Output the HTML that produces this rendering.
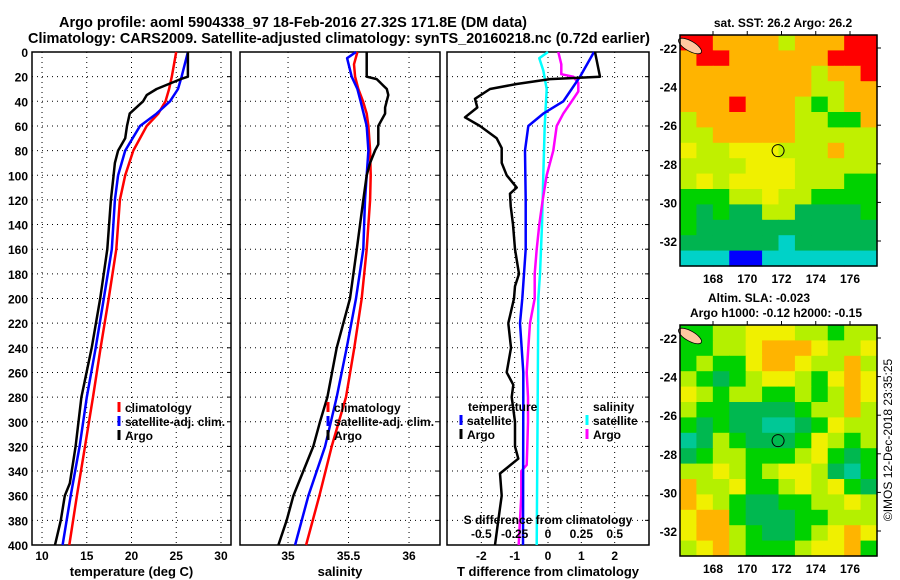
<!DOCTYPE html>
<html><head><meta charset="utf-8"><style>
body{margin:0;background:#fff;}
svg{display:block;font-family:"Liberation Sans",sans-serif;font-weight:bold;}
</style></head><body>
<svg id="chart" width="900" height="580" viewBox="0 0 900 580" xmlns="http://www.w3.org/2000/svg">
<text x="59" y="27" font-size="15" textLength="468" lengthAdjust="spacingAndGlyphs">Argo profile: aoml 5904338_97 18-Feb-2016 27.32S 171.8E (DM data)</text>
<text x="28" y="43" font-size="15" textLength="622" lengthAdjust="spacingAndGlyphs">Climatology: CARS2009. Satellite-adjusted climatology: synTS_20160218.nc (0.72d earlier)</text>
<g id="layer"></g>
<text transform="translate(892,440) rotate(-90)" text-anchor="middle" font-size="12" font-weight="normal">©IMOS 12-Dec-2018 23:35:25</text>
</svg>
<script>
// ---- temperature panel data ----
const tClimDepth=[0,20,30,40,50,60,80,100,120,160,200,240,280,320,360,400];
const tClimVal=[25.0,24.5,24.2,23.8,23.0,21.7,20.2,19.3,18.7,18.3,17.45,16.55,15.7,14.8,13.9,13.05];
const tSatDepth=[0,20,30,40,50,60,80,100,120,160,200,240,280,320,360,400];
const tSatVal=[26.3,25.6,25.2,24.3,22.8,20.95,19.3,18.5,18.15,17.8,16.9,16.0,15.0,14.2,13.2,12.3];
const tArgoDepth=[0,20,22,30,35,40,50,60,70,80,90,100,120,160,200,240,280,320,350,360,380,400];
const tArgoVal=[26.3,26.3,25.5,22.8,21.7,21.3,19.8,19.5,19.3,18.5,18.15,18.0,17.7,17.3,16.5,15.55,14.4,13.75,13.1,12.55,12.1,11.45];
// ---- salinity panel data ----
const sClimDepth=[0,10,20,30,40,50,60,80,100,120,160,200,240,280,320,360,400];
const sClimVal=[35.573,35.545,35.554,35.581,35.62,35.65,35.664,35.678,35.683,35.678,35.65,35.609,35.548,35.479,35.361,35.259,35.149];
const sSatDepth=[0,5,20,30,40,60,80,100,120,160,200,240,280,320,360,400];
const sSatVal=[35.562,35.488,35.526,35.573,35.6,35.65,35.664,35.65,35.636,35.622,35.562,35.485,35.402,35.306,35.168,35.058];
const sArgoDepth=[0,20,22,30,35,45,50,60,75,80,90,100,120,160,200,240,280,300,320,340,360,380,400];
const sArgoVal=[35.65,35.65,35.733,35.816,35.829,35.802,35.802,35.746,35.746,35.719,35.678,35.65,35.622,35.568,35.512,35.402,35.325,35.264,35.209,35.126,35.044,34.989,34.92];
// ---- difference panel data ----
const dTArgoDepth=[0,20,22,26,30,38,45,53,60,70,78,90,100,110,115,125,140,160,180,190,200,220,240,260,270,280,300,320,330,342,360,380,400];
const dTArgoVal=[1.41,1.56,0.06,-0.94,-1.74,-2.19,-2.12,-2.49,-2.04,-1.54,-1.39,-1.39,-1.24,-0.94,-1.14,-1.12,-1.05,-0.99,-0.87,-0.99,-1.02,-1.19,-1.11,-1.24,-1.04,-1.09,-0.99,-0.99,-0.89,-1.44,-1.39,-1.49,-1.59];
const dTSatDepth=[0,20,30,40,50,60,80,120,160,200,220,260,280,400];
const dTSatVal=[1.38,0.96,0.71,0.46,-0.14,-0.59,-0.69,-0.67,-0.67,-0.77,-0.84,-0.74,-0.74,-0.75];
const dSSatDepth=[0,5,15,30,60,100,140,180,200,280,400];
const dSSatVal=[0.0,-0.065,-0.035,-0.01,-0.025,-0.035,-0.045,-0.06,-0.073,-0.077,-0.085];
const dSArgoDepth=[0,10,18,20,25,32,40,50,60,80,100,120,140,160,180,200,220,240,260,280,300,320,335,340,360,380,400];
const dSArgoVal=[0.077,0.1,0.1,0.19,0.227,0.227,0.178,0.115,0.065,0.04,-0.01,-0.04,-0.065,-0.085,-0.1,-0.1,-0.135,-0.148,-0.16,-0.15,-0.15,-0.155,-0.16,-0.2,-0.2,-0.21,-0.22];
// ---- axis ticks ----
const depthTicks=[0,20,40,60,80,100,120,140,160,180,200,220,240,260,280,300,320,340,360,380,400];
const tTicks=[10,15,20,25,30];
const sTicks=[35,35.5,36];
const dTTicks=[-2,-1,0,1,2];
const dSTicks=[-0.5,-0.25,0,0.25,0.5];
// ---- maps ----
const sstRows=["rroooolooorr","orroooooorrr","ooooooooloor","oooooooolloo","ooorooolgloo","loooooollggo","llooooolllll","yllyyyllloll","llllyyylllll","lylyyyylllgg","gggllyllgggg","gdgddllddddg","gddddddddddd","ddddddcddddd","cccbbccccccc"];
const slaRows=["ggllyyyllgll","ggllyoooyllyl","glggyooyllo y","lgdglyylgyoy","ylgllgglgloy","lggddddgllol","gdgddccdgyll","cdlgdddgylgl","dgllggglygdg","llylglyyldcg","ollyggly ygdl","oylgddggllyl","yoogdddggllly","yoolgddglyoy","lyolggglyyog"];
const sstColors={r:"#ff0000",o:"#ffb400",y:"#f0f000",l:"#c0f000",g:"#00d200",d:"#00b450",c:"#00d2c8",b:"#0000ff"};
const slaColors={o:"#ffb400",y:"#f0f000",l:"#b4f000",g:"#00d200",d:"#00b850",c:"#00c896"};
const lonTicks=[168,170,172,174,176];
const latTicks=[-22,-24,-26,-28,-30,-32];
const argoLon=171.8, argoLat=-27.32;

const NS="http://www.w3.org/2000/svg";
const layer=document.getElementById('layer');
function mk(tag,attrs,parent){const e=document.createElementNS(NS,tag);for(const k in attrs)e.setAttribute(k,attrs[k]);(parent||layer).appendChild(e);return e;}
function txt(s,x,y,anchor,size,parent){const t=mk('text',{x:x,y:y,'text-anchor':anchor||'start','font-size':size||12},parent);t.textContent=s;return t;}

const Y0=52,Y1=545;
function yd(d){return Y0+(d/400)*(Y1-Y0);}
function scale(d0,d1,p0,p1){return v=>p0+(v-d0)/(d1-d0)*(p1-p0);}

const panels=[
 {name:'temperature-panel',x0:32,x1:231,sx:scale(8.88,31.12,32,231),ticks:tTicks,title:'temperature (deg C)'},
 {name:'salinity-panel',x0:240,x1:440,sx:scale(34.603,36.256,240,440),ticks:sTicks,title:'salinity'},
 {name:'difference-panel',x0:447,x1:649,sx:scale(-3.03,3.03,447,649),ticks:dTTicks,title:'T difference from climatology'}
];
panels.forEach((p,i)=>{
  const g=mk('g',{});
  
  
  depthTicks.forEach(d=>{if(d>0&&d<400)mk('line',{x1:p.x0,x2:p.x1,y1:yd(d),y2:yd(d),stroke:'#000','stroke-width':1,'stroke-dasharray':'1,4'},g);
    mk('line',{x1:p.x1-4,x2:p.x1,y1:yd(d),y2:yd(d),stroke:'#000'},g);});
  p.ticks.forEach(v=>{const x=p.sx(v);mk('line',{x1:x,x2:x,y1:Y0,y2:Y1,stroke:'#000','stroke-dasharray':'1,4'},g);
    const t=txt(String(v),x,560,'middle',12,g);
    
    });
  mk('rect',{x:p.x0,y:Y0,width:p.x1-p.x0,height:Y1-Y0,fill:'none',stroke:'#000','stroke-width':1.5},g);
  const tt=txt(p.title,(p.x0+p.x1)/2,576,'middle',13,g);
  
  
});
depthTicks.forEach(d=>{const t=txt(String(d),28,yd(d)+5,'end',12);
  
  });

function line(depths,vals,sx,color,w,name){
  const pts=depths.map((d,i)=>sx(vals[i]).toFixed(1)+','+yd(d).toFixed(1)).join(' ');
  const e=mk('polyline',{points:pts,fill:'none',stroke:color,'stroke-width':w,'stroke-linejoin':'round'});
  
  
}
const P=panels;
line(tClimDepth,tClimVal,P[0].sx,'#ff0000',2.5,'temperature-climatology-line');
line(tSatDepth,tSatVal,P[0].sx,'#0000ff',2.5,'temperature-satellite-line');
line(tArgoDepth,tArgoVal,P[0].sx,'#000',2.5,'temperature-argo-line');
line(sClimDepth,sClimVal,P[1].sx,'#ff0000',2.5,'salinity-climatology-line');
line(sSatDepth,sSatVal,P[1].sx,'#0000ff',2.5,'salinity-satellite-line');
line(sArgoDepth,sArgoVal,P[1].sx,'#000',2.5,'salinity-argo-line');
const sxS=v=>P[2].sx(v*4);
line(dSSatDepth,dSSatVal,sxS,'#00ffff',2.5,'sdiff-satellite-line');
line(dSArgoDepth,dSArgoVal,sxS,'#ff00ff',2.5,'sdiff-argo-line');
line(dTSatDepth,dTSatVal,P[2].sx,'#0000ff',2.5,'tdiff-satellite-line');
line(dTArgoDepth,dTArgoVal,P[2].sx,'#000',2.5,'tdiff-argo-line');

const st=txt('S difference from climatology',548,524,'middle',12);


dSTicks.forEach(v=>{const t=txt(String(v),sxS(v),538,'middle',12);
  
  });

function legend(x,y,items,name){
  const g=mk('g',{});
  
  
  items.forEach((it,i)=>{const yy=y+i*14;
    if(it[1])mk('line',{x1:x,x2:x,y1:yy-10,y2:yy,stroke:it[1],'stroke-width':3},g);
    const t=txt(it[0],x+6,yy,'start',12,g);
    
    });
}
legend(119,412,[['climatology','#ff0000'],['satellite-adj. clim.','#0000ff'],['Argo','#000']],'temperature-legend');
legend(328,412,[['climatology','#ff0000'],['satellite-adj. clim.','#0000ff'],['Argo','#000']],'salinity-legend');
legend(462,411,[['temperature',null]],'tdiff-legend-title');
legend(461,425,[['satellite','#0000ff'],['Argo','#000']],'tdiff-legend');
legend(587,411,[['salinity',null]],'sdiff-legend-title');
legend(587,425,[['satellite','#00ffff'],['Argo','#ff00ff']],'sdiff-legend');

function map(top,rows,colors,name,title){
  const L=680,R=877,T=top,B=top+231;
  const g=mk('g',{});
  
  
  const lonS=scale(168,176,713,850), latS=scale(-22,-32,T+13,T+206);
  const nr=rows.length, ch=(B-T)/nr, NC=12, cw=(R-L)/NC;
  rows.forEach((row,ri)=>{
    for(let ci=0;ci<NC;ci++){
      const k=row[ci];
      const c=mk('rect',{x:(L+ci*cw).toFixed(2),y:(T+ri*ch).toFixed(2),width:(cw+0.6).toFixed(2),height:(ch+0.6).toFixed(2),fill:colors[k]||colors.l},g);
      
      
    }});
  mk('ellipse',{cx:L+10,cy:T+11,rx:13,ry:5,fill:'#ffc8a0',stroke:'#000','stroke-width':0.8,transform:`rotate(30 ${L+10} ${T+11})`},g);
  const ci=mk('circle',{cx:lonS(argoLon),cy:latS(argoLat),r:6,fill:'none',stroke:'#000','stroke-width':1},g);
  
  
  mk('rect',{x:L,y:T,width:R-L,height:B-T,fill:'none',stroke:'#000','stroke-width':1.5},g);
  lonTicks.forEach(v=>{const x=lonS(v);mk('line',{x1:x,x2:x,y1:T-4,y2:T,stroke:'#000'},g);
    const t=txt(String(v),x,B+17,'middle',12,g);
    
    });
  latTicks.forEach(v=>{const y=latS(v);mk('line',{x1:R,x2:R+4,y1:y,y2:y,stroke:'#000'},g);
    const t=txt(String(v),677,y+5,'end',12,g);
    
    });
  title.forEach((s,i)=>{const t=txt(s[0],s[1],s[2],'middle',12,g);
    
    });
}
map(35,sstRows,sstColors,'sst-map',[['sat. SST: 26.2 Argo: 26.2',783,27]]);
map(325,slaRows,slaColors,'sla-map',[['Altim. SLA: -0.023',759,302],['Argo h1000: -0.12 h2000: -0.15',776,317]]);
</script>
</body></html>
